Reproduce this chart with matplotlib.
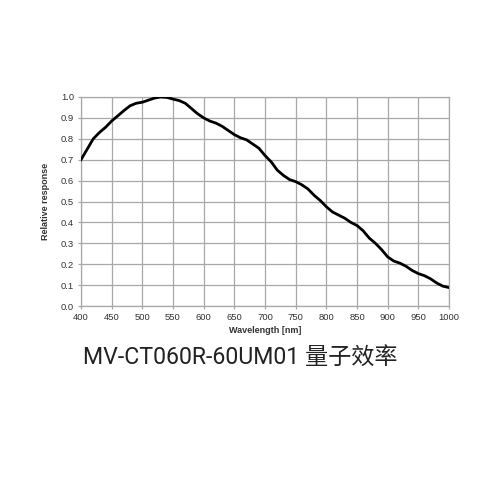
import matplotlib
matplotlib.use('Agg')
import matplotlib.pyplot as plt
import numpy as np

# Quantum efficiency curve
wavelength = [400, 410, 420, 430, 440, 450, 460, 470, 480, 490,
              500, 510, 520, 530, 540, 550, 560, 570, 580, 590,
              600, 610, 620, 630, 640, 650, 660, 670, 680, 690,
              700, 710, 720, 730, 740, 750, 760, 770, 780, 790,
              800, 810, 820, 830, 840, 850, 860, 870, 880, 890,
              900, 910, 920, 930, 940, 950, 960, 970, 980, 990, 1000]
response = [0.70, 0.75, 0.80, 0.83, 0.855, 0.885, 0.91, 0.935, 0.958, 0.97,
            0.975, 0.985, 0.995, 1.0, 0.998, 0.99, 0.983, 0.97, 0.945, 0.92,
            0.90, 0.885, 0.875, 0.86, 0.84, 0.82, 0.805, 0.795, 0.775, 0.755,
            0.72, 0.69, 0.65, 0.625, 0.605, 0.595, 0.58, 0.56, 0.53, 0.505,
            0.475, 0.45, 0.435, 0.42, 0.40, 0.385, 0.36, 0.325, 0.30, 0.27,
            0.235, 0.215, 0.205, 0.19, 0.17, 0.155, 0.145, 0.13, 0.11, 0.095, 0.088]

xticks = np.arange(400, 1001, 50)
yticks = np.arange(0, 1.01, 0.1)

fig = plt.figure(figsize=(5, 5), dpi=100)
fig.patch.set_facecolor('white')
ax = fig.add_axes([0.162, 0.388, 0.736, 0.418])

ax.plot(wavelength, response, color='black', lw=2.0, zorder=3)

ax.set_xlim(400, 1000)
ax.set_ylim(0, 1.0)
ax.set_xticks(xticks)
ax.set_yticks(yticks)
ax.set_yticklabels([f'{v:.1f}' for v in yticks])
ax.grid(True, color='#a8a8a8', lw=0.9)
ax.tick_params(length=2.5, width=0.9, color='#a8a8a8', labelsize=6.8,
               labelcolor='#333333', pad=2.5)
for sp in ax.spines.values():
    sp.set_color('#a8a8a8')
    sp.set_linewidth(0.9)

ax.set_xlabel('Wavelength [nm]', fontsize=6.5, fontweight='bold', color='#333333',
              family='Liberation Sans', labelpad=3)
ax.set_ylabel('Relative response', fontsize=6.5, fontweight='bold', color='#333333',
              family='Liberation Sans', labelpad=8)
for lbl in ax.get_xticklabels() + ax.get_yticklabels():
    lbl.set_family('Liberation Sans')

fig.text(0.166, 0.284, 'MV-CT060R-60UM01 量子效率', fontsize=16.7, color='#222222',
         family=['Roboto', 'Noto Sans CJK SC'], ha='left', va='center')

fig.savefig('out.png', dpi=100, facecolor='white')
plt.close()
